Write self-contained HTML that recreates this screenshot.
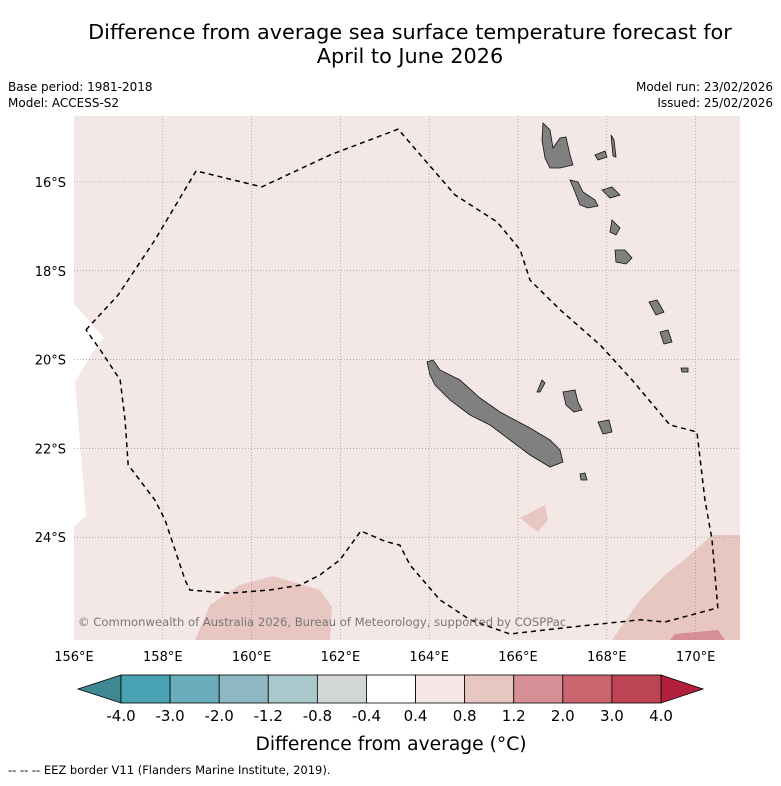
<!DOCTYPE html>
<html><head><meta charset="utf-8"><style>
body{margin:0;background:#fff;width:781px;height:781px;overflow:hidden;font-family:"Liberation Sans","DejaVu Sans",sans-serif}
svg text{font-family:"DejaVu Sans","Liberation Sans",sans-serif}
</style></head><body>
<svg id="c" width="781" height="781" xmlns="http://www.w3.org/2000/svg">
<text x="410" y="39" font-size="20.8" text-anchor="middle">Difference from average sea surface temperature forecast for</text>
<text x="410" y="63" font-size="20.8" text-anchor="middle">April to June 2026</text>
<text x="8" y="91" font-size="12">Base period: 1981-2018</text>
<text x="8" y="107" font-size="12">Model: ACCESS-S2</text>
<text x="773" y="91" font-size="12" text-anchor="end">Model run: 23/02/2026</text>
<text x="773" y="107" font-size="12" text-anchor="end">Issued: 25/02/2026</text>
<g id="map"></g>
<g id="cb"></g>
<text x="391" y="750" font-size="18.7" text-anchor="middle">Difference from average (°C)</text>
<text x="8" y="774" font-size="11.5">--  --  -- EEZ border V11 (Flanders Marine Institute, 2019).</text>
</svg>
<script>
const lonTicks=[156,158,160,162,164,166,168,170];
const latTicks=[16,18,20,22,24];
const cbLabels=["-4.0","-3.0","-2.0","-1.2","-0.8","-0.4","0.4","0.8","1.2","2.0","3.0","4.0"];
const cbColors=["#4aa3b3","#6aaebb","#8db8c2","#a9c8cb","#d3d6d6","#ffffff","#f5e7e6","#e8c6c2","#d68f94","#cb6670","#be4556"];
const eezLon=[156.27,156.99,157.82,158.75,160.23,161.77,163.30,164.58,165.53,166.05,166.27,166.95,167.85,168.57,169.42,170.03,170.21,170.37,170.50,169.31,168.75,166.95,165.82,164.92,164.24,163.57,163.34,163.00,162.46,161.99,161.54,161.09,160.41,159.51,158.61,158.50,158.05,157.82,157.22,157.15,157.04,156.59,156.27];
const eezLat=[19.33,18.55,17.31,15.75,16.11,15.39,14.81,16.29,16.90,17.53,18.21,18.88,19.67,20.46,21.47,21.63,23.16,24.06,25.59,25.91,25.86,26.05,26.18,25.86,25.41,24.63,24.18,24.09,23.86,24.51,24.85,25.08,25.19,25.26,25.19,24.96,23.61,23.16,22.37,21.36,20.46,19.78,19.33];
const X=lon=>74+(lon-156)*44.4, Y=lat=>182+(lat-16)*44.4;
const NS="http://www.w3.org/2000/svg";
function mk(t,a,p){const e=document.createElementNS(NS,t);for(const k in a)e.setAttribute(k,a[k]);p.appendChild(e);return e;}
const m=document.getElementById('map');
const bg=mk('rect',{x:74,y:116,width:666,height:524,fill:'#f4e8e6'},m);


const polys=[
 ['white-gap','#ffffff','74,304 104,338 94,350 75,382 86,516 74,526'],
 ['warm-patch-southwest','#e8c6c2','195,640 210,605 240,585 273,576 320,590 332,607 330,640'],
 ['warm-patch-southeast','#e8c6c2','612,640 640,600 665,575 690,555 712,535 740,535 740,640'],
 ['warm-patch-east-strong','#d68f94','670,640 675,634 718,630 725,640'],
 ['warm-patch-small','#e8c6c2','520,518 545,505 548,520 538,532'],
 ['new-caledonia','#808080','427,362 433,360 440,370 460,380 480,398 500,412 530,428 550,440 560,450 563,462 550,467 530,455 510,440 490,425 470,415 450,400 435,385 430,375'],
 ['island-espiritu-santo','#808080','543,123 550,130 553,148 560,138 566,137 570,155 573,165 560,168 550,168 545,158 542,140'],
 ['island-malekula','#808080','570,180 578,182 583,192 595,200 598,206 588,208 580,205 575,192'],
 ['island-efate','#808080','612,220 620,228 616,235 610,232'],
 ['island-erromango','#808080','615,250 625,250 632,258 626,264 616,262'],
 ['island-tanna','#808080','602,190 612,187 620,195 610,198'],
 ['island-pentecost','#808080','611,135 614,140 616,157 613,156'],
 ['island-maewo','#808080','595,155 605,151 607,157 598,160'],
 ['island-loyalty-1','#808080','563,392 575,390 578,402 582,410 574,412 566,405'],
 ['island-loyalty-2','#808080','598,422 609,420 612,432 603,434'],
 ['island-matthew','#808080','649,302 657,300 664,312 656,315'],
 ['island-hunter','#808080','660,332 668,330 672,342 664,344'],
 ['island-ouvea','#808080','537,392 542,380 545,383 540,392'],
 ['island-pines','#808080','580,474 585,473 587,480 581,480'],
 ['island-small-east','#808080','681,368 688,368 688,372 682,372']
];
for(const p of polys){const e=mk('polygon',{points:p[2],fill:p[1],stroke:p[1]==='#808080'?'#111':'none','stroke-width':0.8},m);
 
 }
for(const lon of lonTicks){if(lon===156)continue;const l=mk('line',{x1:X(lon),x2:X(lon),y1:116,y2:640,stroke:'#888','stroke-width':0.6,'stroke-dasharray':'1,2'},m);
 
 }
for(const lat of latTicks){const l=mk('line',{x1:74,x2:740,y1:Y(lat),y2:Y(lat),stroke:'#888','stroke-width':0.6,'stroke-dasharray':'1,2'},m);
 
 
 const t=mk('text',{x:66,y:Y(lat)+5,'font-size':13,'text-anchor':'end'},m);t.textContent=lat+'°S';
 
 }
for(const lon of lonTicks){const t=mk('text',{x:X(lon),y:661,'font-size':13,'text-anchor':'middle'},m);t.textContent=lon+'°E';
 
 }
const eez=mk('polyline',{points:eezLon.map((v,i)=>X(v)+','+Y(eezLat[i])).join(' '),fill:'none',stroke:'#000','stroke-width':1.5,'stroke-dasharray':'5,4'},m);


const cp=mk('text',{x:78,y:626,'font-size':11.6,fill:'#777'},m);cp.textContent='© Commonwealth of Australia 2026, Bureau of Meteorology, supported by COSPPac';


const cb=document.getElementById('cb');
const x0=121,x1=661,y0=675,y1=703,w=(x1-x0)/cbColors.length;
const la=mk('polygon',{points:`${x0},${y0} 78,689 ${x0},${y1}`,fill:'#3f8893',stroke:'#000','stroke-width':0.8},cb);


const ra=mk('polygon',{points:`${x1},${y0} 703,689 ${x1},${y1}`,fill:'#b2203c',stroke:'#000','stroke-width':0.8},cb);


cbColors.forEach((c,i)=>{const r=mk('rect',{x:x0+i*w,y:y0,width:w,height:y1-y0,fill:c,stroke:'#000','stroke-width':0.8},cb);
 
 });
cbLabels.forEach((s,i)=>{const t=mk('text',{x:x0+i*w,y:721,'font-size':15,'text-anchor':'middle'},cb);t.textContent=s;
 
 });
</script>
</body></html>
